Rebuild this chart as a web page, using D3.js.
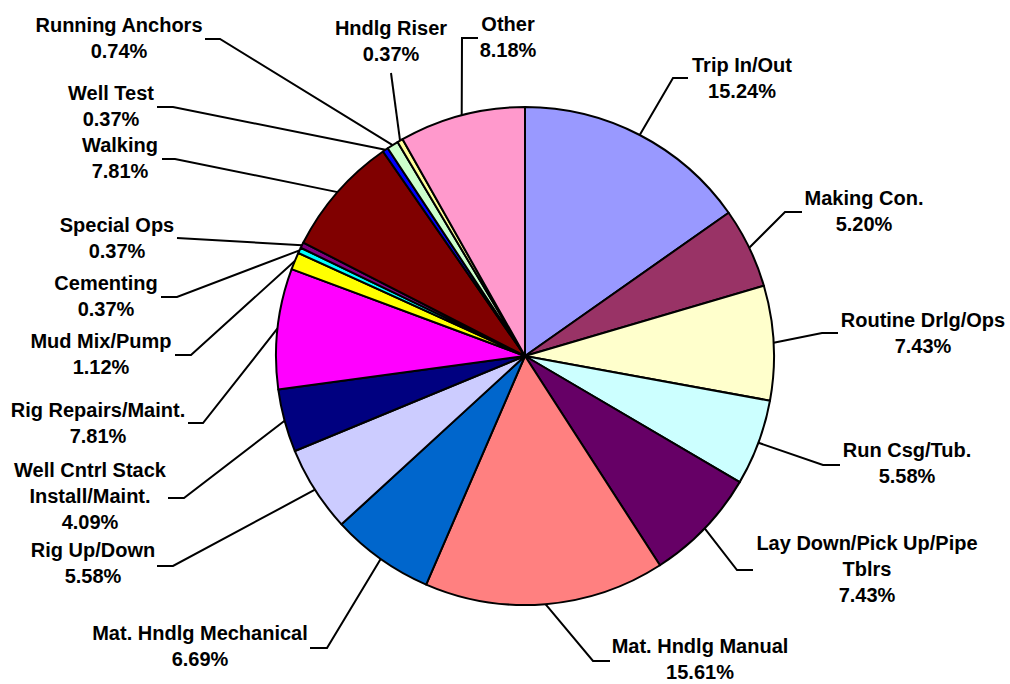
<!DOCTYPE html>
<html>
<head>
<meta charset="utf-8">
<script src="https://cdn.jsdelivr.net/npm/d3@7"></script>
<style>
  body { margin: 0; background: #fff; }
  svg { display: block; }
  text { font-family: Arial, "Liberation Sans", sans-serif; font-weight: bold; font-size: 20px; fill: #000; }
</style>
</head>
<body>
<svg id="chart" width="1010" height="684"></svg>
<script>
// slices, clockwise from 12 o'clock
const categories = ['Trip In/Out', 'Making Con.', 'Routine Drlg/Ops', 'Run Csg/Tub.',
  'Lay Down/Pick Up/Pipe\nTblrs', 'Mat. Hndlg Manual', 'Mat. Hndlg Mechanical', 'Rig Up/Down',
  'Well Cntrl Stack\nInstall/Maint.', 'Rig Repairs/Maint.', 'Mud Mix/Pump', 'Cementing',
  'Special Ops', 'Walking', 'Well Test', 'Running Anchors', 'Hndlg Riser', 'Other']
const percents = [15.24, 5.20, 7.43, 5.58, 7.43, 15.61, 6.69, 5.58, 4.09, 7.81, 1.12, 0.37,
  0.37, 7.81, 0.37, 0.74, 0.37, 8.18]
const colors = ['#9999FF', '#993366', '#FFFFCC', '#CCFFFF', '#660066', '#FF8080', '#0066CC', '#CCCCFF',
  '#000080', '#FF00FF', '#FFFF00', '#00FFFF', '#800080', '#800000', '#0000FF', '#CCFFCC', '#FFFF99', '#FF99CC']

// label placement: [label centre x, first baseline, elbow x, elbow y, end of horizontal x]
const labelPos = [
  [742, 72, 673, 78, 688],
  [864, 205, 785, 212, 802],
  [923, 327, 822, 333, 838],
  [907, 457, 823, 465, 840],
  [867, 550, 737, 570, 753],
  [700, 653, 593, 661, 610],
  [200, 640, 327, 648, 310],
  [93, 557, 173, 566, 157],
  [90, 477, 184, 498, 168],
  [98, 417, 203, 423, 188],
  [101, 348, 191, 355, 175],
  [106, 290, 177, 297, 161],
  [117, 232, 177, 238, 177],
  [120, 152, 175, 159, 162],
  [111, 100, 173, 107, 157],
  [119, 32, 220, 39, 205],
  [391, 35, 391, 73, 391],
  [508, 31, 462, 38, 478]
]

const cx = 525, cy = 356, radius = 249, lineH = 26

const svg = d3.select('#chart')
const data = categories.map((c, i) => ({name: c, value: percents[i], color: colors[i], pos: labelPos[i]}))

const pie = d3.pie().sort(null).value(d => d.value)
const arcs = pie(data)
const arc = d3.arc().innerRadius(0).outerRadius(radius)
const edge = d3.arc().innerRadius(radius).outerRadius(radius)

const g = svg.append('g').attr('transform', `translate(${cx},${cy})`)
g.selectAll('path.slice')
  .data(arcs)
  .enter().append('path')
  .attr('class', 'slice')
  .attr('d', arc)
  .attr('fill', d => d.data.color)
  .attr('stroke', '#000')
  .attr('stroke-width', 2)
  .attr('stroke-linejoin', 'round')

// leader lines
svg.append('g').selectAll('path.leader')
  .data(arcs)
  .enter().append('path')
  .attr('class', 'leader')
  .attr('d', d => {
    const [px, py] = edge.centroid(d)
    const p = d.data.pos
    return d3.line()([[cx + px, cy + py], [p[2], p[3]], [p[4], p[3]]])
  })
  .attr('fill', 'none')
  .attr('stroke', '#000')
  .attr('stroke-width', 2)

// labels
const labels = svg.append('g').selectAll('text')
  .data(data)
  .enter().append('text')
  .attr('text-anchor', 'middle')
  .attr('x', d => d.pos[0])
  .attr('y', d => d.pos[1])

labels.each(function(d){
  const lines = d.name.split('\n').concat([d.value.toFixed(2) + '%'])
  d3.select(this).selectAll('tspan')
    .data(lines)
    .enter().append('tspan')
    .attr('x', d.pos[0])
    .attr('dy', (l, i) => i === 0 ? 0 : lineH)
    .text(l => l)
})
</script>
</body>
</html>
